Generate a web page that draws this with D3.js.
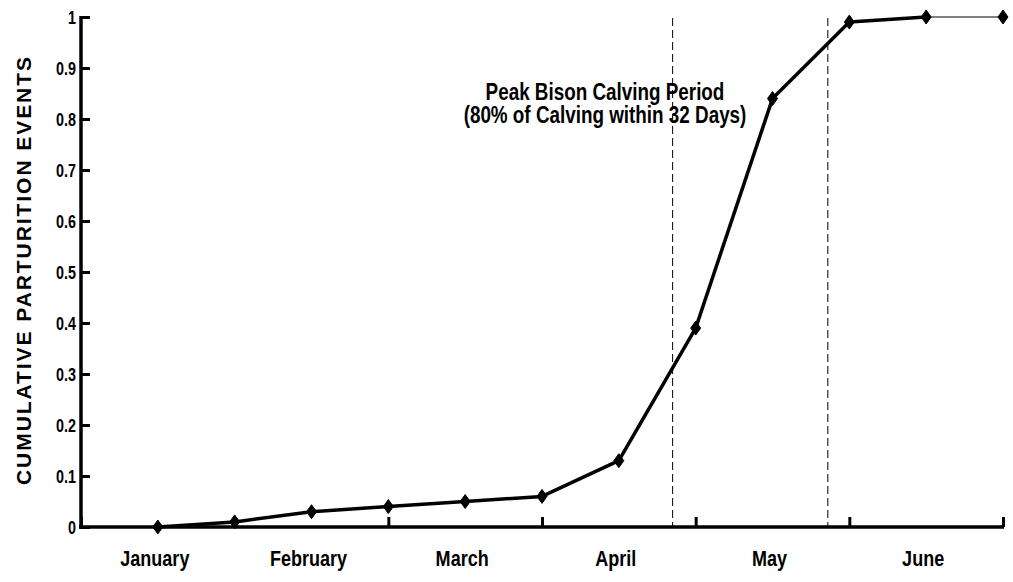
<!DOCTYPE html>
<html><head><meta charset="utf-8">
<script src="https://cdn.jsdelivr.net/npm/d3@7"></script>
<style>
body{margin:0;background:#fff;}
svg{display:block;}
.narrow{font-family:"Liberation Sans",Arial,sans-serif;font-weight:bold;}
</style></head>
<body>
<svg id="chart" width="1013" height="582"></svg>
<script>
// Data (x in months from Jan 1; points at half-month steps)
const months = ["January","February","March","April","May","June"];
const pointMonths = [0.5,1,1.5,2,2.5,3,3.5,4,4.5,5,5.5,6];
const cumulative = [0.0,0.01,0.03,0.04,0.05,0.06,0.13,0.39,0.84,0.99,1.0,1.0];
const yTicks = [0,0.1,0.2,0.3,0.4,0.5,0.6,0.7,0.8,0.9,1];
const peakBounds = [3.85,4.86];
const annotation = ["Peak Bison Calving Period","(80% of Calving within 32 Days)"];

const NARROW = 0.82;
const svg = d3.select("#chart");
const x = d3.scaleLinear().domain([0,6]).range([81,1003]);
const y = d3.scaleLinear().domain([0,1]).range([527,17]);

// dashed peak lines
svg.selectAll("line.peak").data(peakBounds).enter().append("line")
  .attr("x1",d=>x(d)).attr("x2",d=>x(d)).attr("y1",y(1)+1).attr("y2",y(0))
  .attr("stroke","#000").attr("stroke-width",1).attr("stroke-dasharray","8,4");

// x axis
const xAxis = d3.axisBottom(x).tickValues(d3.range(0,7)).tickSize(-10).tickFormat("");
const gx = svg.append("g").attr("transform",`translate(0,${y(0)})`).call(xAxis);
gx.select(".domain").attr("stroke-width",3.5).attr("d",`M${x(0)-2},0H${x(6)+1}`);
gx.selectAll(".tick line").attr("stroke-width",3);
svg.append("g").selectAll("text").data(months).enter().append("text")
  .attr("class","narrow")
  .attr("transform",(d,i)=>`translate(${x(i+0.5)-3},566) scale(${NARROW},1)`)
  .attr("text-anchor","middle").attr("font-size",22).text(d=>d);

// y axis
const yAxis = d3.axisLeft(y).tickValues(yTicks).tickSize(-9).tickPadding(5)
  .tickFormat(d=>d===0?"0":d===1?"1":d3.format(".1f")(d));
const gy = svg.append("g").attr("transform",`translate(${x(0)},0)`).call(yAxis);
gy.select(".domain").attr("stroke-width",3.5).attr("d",`M0,${y(1)-1}V${y(0)+2}`);
gy.selectAll(".tick line").attr("stroke-width",3);
gy.selectAll(".tick text").attr("class","narrow").attr("font-size",17.5).attr("fill","#000")
  .attr("x",0).attr("dy","0.35em").attr("transform",`translate(-5,0) scale(${NARROW},1)`);

// y title
svg.append("text").attr("transform",`translate(31,${271}) rotate(-90)`)
  .attr("text-anchor","middle").attr("font-family","Liberation Sans, Arial, sans-serif")
  .attr("font-weight","bold").attr("font-size",21)
  .attr("textLength",428).attr("lengthAdjust","spacing")
  .text("CUMULATIVE PARTURITION EVENTS");

// line
svg.append("path").datum(cumulative.slice(0,11))
  .attr("d",(d)=>d3.line().x((v,i)=>x(pointMonths[i])).y(v=>y(v))(d))
  .attr("fill","none").attr("stroke","#000").attr("stroke-width",3.5).attr("stroke-linejoin","round");
svg.append("path").datum(cumulative.slice(10))
  .attr("d",(d)=>d3.line().x((v,i)=>x(pointMonths[i+10])).y(v=>y(v))(d))
  .attr("fill","none").attr("stroke","#000").attr("stroke-width",1);

// markers
const diamond = "M0,-7L5,0L0,7L-5,0Z";
svg.selectAll("path.mk").data(cumulative).enter().append("path")
  .attr("class","mk").attr("d",diamond)
  .attr("transform",(d,i)=>`translate(${x(pointMonths[i])},${y(d)})`)
  .attr("fill","#000").attr("stroke","#000").attr("stroke-width",1);

// annotation
svg.append("g").selectAll("text").data(annotation).enter().append("text")
  .attr("class","narrow")
  .attr("transform",(d,i)=>`translate(605,${100+i*23}) scale(${NARROW},1)`)
  .attr("text-anchor","middle").attr("font-size",23).text(d=>d);
</script>
</body></html>
